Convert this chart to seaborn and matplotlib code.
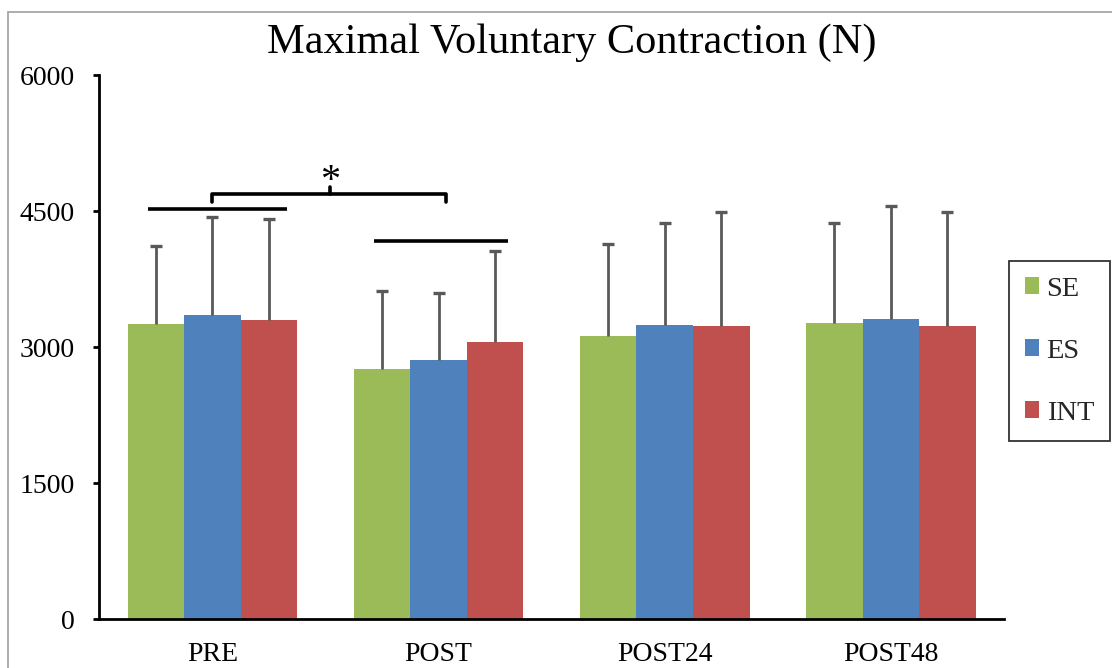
import numpy as np
import pandas as pd
import seaborn as sns
import matplotlib.pyplot as plt
from matplotlib.patches import Rectangle, Patch

# Data
times = ["PRE", "POST", "POST24", "POST48"]
groups = ["SE", "ES", "INT"]
se_mean = [3255, 2757, 3128, 3265]
es_mean = [3353, 2860, 3249, 3316]
int_mean = [3301, 3055, 3232, 3232]
se_sd = [863, 868, 1008, 1103]
es_sd = [1088, 743, 1119, 1243]
int_sd = [1117, 1011, 1261, 1261]
colors = ["#9BBB59", "#4F81BD", "#C0504D"]
yticks = [0, 1500, 3000, 4500, 6000]

means = {"SE": se_mean, "ES": es_mean, "INT": int_mean}
sds = {"SE": se_sd, "ES": es_sd, "INT": int_sd}

rows = []
for g in groups:
    for t, m in zip(times, means[g]):
        rows.append({"time": t, "group": g, "mvc": m})
df = pd.DataFrame(rows)

sns.set_theme(style="white")
plt.rcParams["font.family"] = ["Liberation Serif", "DejaVu Serif"]

W, H = 1112, 668
fig = plt.figure(figsize=(W / 100, H / 100), dpi=100)
ax = fig.add_axes([99.3 / W, 1 - 619.3 / H, (1004 - 99.3) / W, (619.3 - 75.3) / H])

sns.barplot(data=df, x="time", y="mvc", hue="group", palette=colors,
            width=0.75, errorbar=None, saturation=1, ax=ax, legend=False,
            linewidth=0)

# one-sided (plus only) error bars on top of each bar
for cont, g in zip(ax.containers, groups):
    xs = [b.get_x() + b.get_width() / 2 for b in cont]
    hs = [b.get_height() for b in cont]
    _, caps, _ = ax.errorbar(xs, hs, yerr=[np.zeros(len(hs)), sds[g]], fmt="none",
                             ecolor="#595959", elinewidth=2.0, capsize=4,
                             capthick=2.4, zorder=3)
    # drop the cap sitting on the bar top
    for c in caps:
        if np.allclose(c.get_ydata(), hs):
            c.set_visible(False)

ax.set_xlim(-0.5, 3.5)
ax.set_ylim(0, 6000)
ax.set_yticks(yticks)
ax.set_xlabel("")
ax.set_ylabel("")
for s in ["top", "right"]:
    ax.spines[s].set_visible(False)
for s in ["left", "bottom"]:
    ax.spines[s].set_color("black")
    ax.spines[s].set_linewidth(2.0)
ax.tick_params(axis="y", which="major", left=True, length=4.6, width=2.0,
               color="black", labelsize=20, pad=13, labelcolor="black")
ax.tick_params(axis="x", length=0, labelsize=20, pad=16, labelcolor="black")

# significance marks
lw = 2.6
ax.plot([-0.285, 0.332], [4525, 4525], color="black", lw=lw, solid_capstyle="butt")
ax.plot([0.713, 1.306], [4176, 4176], color="black", lw=lw, solid_capstyle="butt")
ax.plot([0.0, 0.0, 1.035, 1.035], [4606, 4691, 4691, 4606], color="black", lw=lw,
        solid_joinstyle="round")
ax.plot([0.52, 0.52], [4691, 4770], color="black", lw=lw)
ax.text(0.52, 4724, "*", ha="center", va="baseline", fontsize=29, color="black")

# legend
handles = [Patch(facecolor=c, edgecolor="none", label=g) for c, g in zip(colors, groups)]
leg = fig.legend(handles=handles, loc="upper left",
                 bbox_to_anchor=(1009 / W, 1 - 261 / H), bbox_transform=fig.transFigure,
                 fontsize=20.5, handlelength=0.52, handleheight=0.52, handletextpad=0.25,
                 labelspacing=1.3, borderpad=0.55, borderaxespad=0, frameon=True,
                 fancybox=False)
leg.get_frame().set_edgecolor("black")
leg.get_frame().set_linewidth(1.3)

# title
fig.text(571.5 / W, 1 - 53 / H, "Maximal Voluntary Contraction (N)", ha="center",
         va="baseline", fontsize=30.5, color="black")

# chart area border
fig.patches.append(Rectangle((7.5 / W, -0.1), 1.2, 1 - 11.7 / H + 0.1,
                             transform=fig.transFigure, fill=False,
                             edgecolor="#A6A6A6", lw=1.3))

fig.savefig("out.png", dpi=100)
